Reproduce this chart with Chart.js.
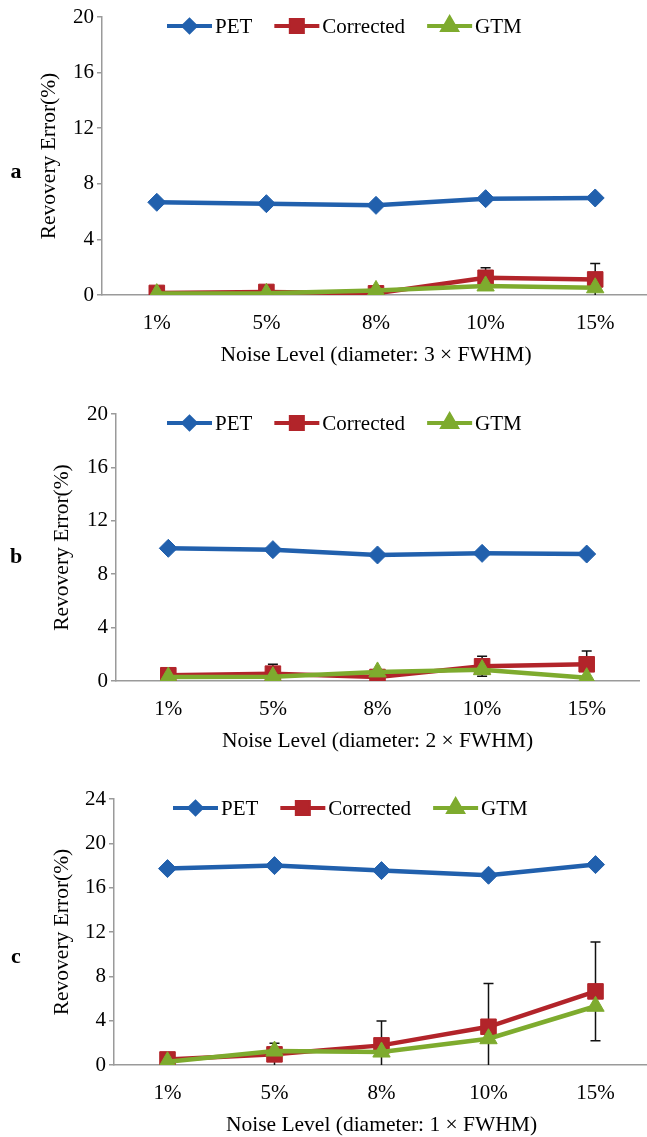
<!DOCTYPE html>
<html lang="en">
<head>
    <meta charset="UTF-8">
    <title>Revovery Error vs Noise Level</title>
    <script src="https://cdn.jsdelivr.net/npm/chart.js"></script>
    <style>
        body { margin: 0; background: #fff; overflow: hidden; }
        .wrap { position: relative; width: 647px; height: 1137px; overflow: hidden; }
        .panel { position: absolute; left: 0; }
    </style>
</head>
<body>
    <div class="wrap">
        <div class="panel" style="top:0px"><canvas id="chartA" width="662" height="375"></canvas></div>
        <div class="panel" style="top:372px"><canvas id="chartB" width="651" height="390"></canvas></div>
        <div class="panel" style="top:752px"><canvas id="chartC" width="661" height="385"></canvas></div>
    </div>

    <script>
        // categories
        const noiseLevels = ['1%', '5%', '8%', '10%', '15%'];

        // panel a: 3 x FWHM
        const petA = [6.67, 6.57, 6.45, 6.93, 6.98];
        const correctedA = [0.15, 0.22, 0.12, 1.24, 1.12];
        const correctedErrA = [0, 0, 0, 0.72, 1.15];
        const gtmA = [0.1, 0.12, 0.33, 0.65, 0.52];

        // panel b: 2 x FWHM
        const petB = [9.94, 9.84, 9.44, 9.56, 9.51];
        const correctedB = [0.43, 0.55, 0.3, 1.1, 1.25];
        const correctedErrB = [0, 0.7, 0, 0.75, 1.0];
        const gtmB = [0.3, 0.32, 0.68, 0.85, 0.25];

        // panel c: 1 x FWHM
        const petC = [17.72, 17.99, 17.54, 17.12, 18.08];
        const correctedC = [0.5, 0.96, 1.77, 3.45, 6.64];
        const correctedErrC = [0, 1.0, 2.2, 3.9, 4.45];
        const gtmC = [0.3, 1.26, 1.17, 2.37, 5.3];

        const FONT = "'Liberation Serif', 'Times New Roman', serif";
        const BLUE = '#2160ad';
        const RED = '#b2242a';
        const GREEN = '#7eab2e';

        // black error bars under the markers
        const errorBars = {
            id: 'errorBars',
            beforeDatasetsDraw(chart) {
                const { ctx, chartArea } = chart;
                const y = chart.scales.y;
                chart.data.datasets.forEach((ds, i) => {
                    if (!ds.errors) return;
                    const meta = chart.getDatasetMeta(i);
                    ctx.save();
                    ctx.strokeStyle = '#111';
                    ctx.lineWidth = 1.5;
                    meta.data.forEach((pt, j) => {
                        const e = ds.errors[j];
                        if (!e) return;
                        const top = y.getPixelForValue(ds.data[j] + e);
                        const bot = Math.min(y.getPixelForValue(ds.data[j] - e), chartArea.bottom);
                        ctx.beginPath();
                        ctx.moveTo(pt.x, top);
                        ctx.lineTo(pt.x, bot);
                        ctx.moveTo(pt.x - 5, top);
                        ctx.lineTo(pt.x + 5, top);
                        if (bot < chartArea.bottom) {
                            ctx.moveTo(pt.x - 5, bot);
                            ctx.lineTo(pt.x + 5, bot);
                        }
                        ctx.stroke();
                    });
                    ctx.restore();
                });
            }
        };

        // legend drawn inside the plot: line + marker + label
        const lineLegend = {
            id: 'lineLegend',
            afterDraw(chart, args, opts) {
                const { ctx, chartArea } = chart;
                let x = opts.x;
                const y = chartArea.top + 9;
                ctx.save();
                ctx.font = '21px ' + FONT;
                ctx.textBaseline = 'middle';
                const items = chart.data.datasets.slice().sort((a, b) => a.legendIndex - b.legendIndex);
                items.forEach(ds => {
                    ctx.strokeStyle = ds.borderColor;
                    ctx.fillStyle = ds.borderColor;
                    ctx.lineWidth = 4;
                    ctx.beginPath();
                    ctx.moveTo(x, y);
                    ctx.lineTo(x + 45, y);
                    ctx.stroke();
                    Chart.helpers.drawPoint(ctx, {
                        pointStyle: ds.pointStyle,
                        radius: ds.legendRadius,
                        borderWidth: 1,
                        rotation: 0
                    }, x + 22.5, y);
                    ctx.fill();
                    ctx.fillStyle = '#000';
                    ctx.fillText(ds.label, x + 48, y + 1);
                    x += 48 + ctx.measureText(ds.label).width + 22;
                });
                ctx.restore();
            }
        };

        // panel letter a / b / c
        const panelLetter = {
            id: 'panelLetter',
            afterDraw(chart, args, opts) {
                const ctx = chart.ctx;
                ctx.save();
                ctx.font = 'bold 22px ' + FONT;
                ctx.fillStyle = '#000';
                ctx.textAlign = 'center';
                ctx.textBaseline = 'middle';
                ctx.fillText(opts.text, opts.x, opts.y);
                ctx.restore();
            }
        };

        function makeChart(id, p, pet, corr, corrErr, gtm) {
            const canvas = document.getElementById(id);
            const leftPad = p.titleX - 13;
            return new Chart(canvas, {
                type: 'line',
                data: {
                    labels: noiseLevels,
                    datasets: [
                        {
                            label: 'PET', data: pet, legendIndex: 0, order: 2,
                            borderColor: BLUE, backgroundColor: BLUE,
                            pointStyle: 'rectRot', pointRadius: 9, legendRadius: 6
                        },
                        {
                            label: 'Corrected', data: corr, errors: corrErr, legendIndex: 1, order: 1,
                            borderColor: RED, backgroundColor: RED,
                            pointStyle: 'rect', pointRadius: 11, legendRadius: 8.5
                        },
                        {
                            label: 'GTM', data: gtm, legendIndex: 2, order: 0,
                            borderColor: GREEN, backgroundColor: GREEN,
                            pointStyle: 'triangle', pointRadius: 10, legendRadius: 8
                        }
                    ].map(ds => Object.assign(ds, {
                        borderWidth: 4.5, tension: 0, fill: false,
                        pointBorderColor: ds.borderColor, pointBackgroundColor: ds.borderColor,
                        pointBorderWidth: 1, pointHoverRadius: ds.pointRadius
                    }))
                },
                options: {
                    responsive: false,
                    animation: false,
                    layout: {
                        padding: {
                            top: p.top,
                            left: leftPad,
                            right: 0,
                            bottom: canvas.height - p.bottom - 73
                        }
                    },
                    plugins: {
                        legend: { display: false },
                        tooltip: { enabled: false },
                        lineLegend: { x: p.legendX },
                        panelLetter: { text: p.letter, x: 16, y: p.letterY }
                    },
                    scales: {
                        x: {
                            offset: true,
                            afterFit: s => { s.height = 73; },
                            grid: { display: true, drawOnChartArea: false, drawTicks: false, color: 'rgba(0,0,0,0)' },
                            border: { color: '#9a9a9a', width: 1.5 },
                            ticks: { color: '#000', font: { family: FONT, size: 21 }, padding: 16, maxRotation: 0 },
                            title: {
                                display: true, text: p.xTitle, color: '#000',
                                font: { family: FONT, size: 21.5 }, padding: 0
                            }
                        },
                        y: {
                            min: 0, max: p.yMax,
                            afterFit: s => { s.width = p.axisX - leftPad; },
                            grid: { drawOnChartArea: false, drawTicks: true, tickLength: 5, color: '#9a9a9a', lineWidth: 1.5 },
                            border: { color: '#9a9a9a', width: 1.5 },
                            ticks: { stepSize: 4, color: '#000', font: { family: FONT, size: 21 }, padding: 3 },
                            title: {
                                display: true, text: 'Revovery Error(%)', color: '#000',
                                font: { family: FONT, size: 21.5 }, padding: 0
                            }
                        }
                    }
                },
                plugins: [errorBars, lineLegend, panelLetter]
            });
        }

        makeChart('chartA', {
            top: 17, bottom: 295, axisX: 102, titleX: 49, legendX: 167,
            letter: 'a', letterY: 172, yMax: 20, xTitle: 'Noise Level (diameter: 3 × FWHM)'
        }, petA, correctedA, correctedErrA, gtmA);

        makeChart('chartB', {
            top: 42, bottom: 309, axisX: 116, titleX: 62, legendX: 167,
            letter: 'b', letterY: 185, yMax: 20, xTitle: 'Noise Level (diameter: 2 × FWHM)'
        }, petB, correctedB, correctedErrB, gtmB);

        makeChart('chartC', {
            top: 47, bottom: 313, axisX: 114, titleX: 62, legendX: 173,
            letter: 'c', letterY: 205, yMax: 24, xTitle: 'Noise Level (diameter: 1 × FWHM)'
        }, petC, correctedC, correctedErrC, gtmC);
    </script>
</body>
</html>
